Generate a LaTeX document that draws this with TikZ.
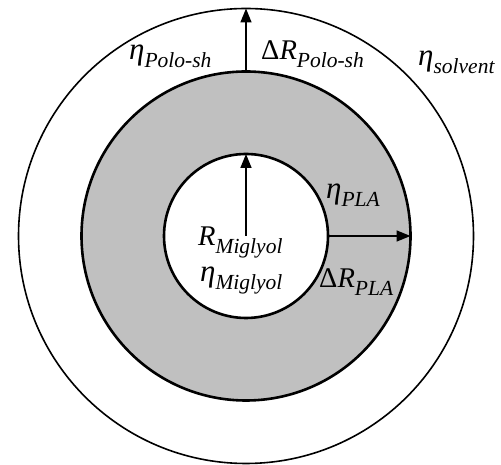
\documentclass[tikz,border=0pt]{standalone}
\usepackage{fontspec}
\setmainfont{Liberation Serif}
\usetikzlibrary{arrows.meta}
\definecolor{shellgrey}{HTML}{C0C0C0}
\newcommand{\lowsub}[1]{\raisebox{-7.5pt}{\fontsize{21.5}{22}\selectfont\itshape #1}}
\newcommand{\visc}{{\fontsize{31}{32}\selectfont\itshape η}}

\begin{document}
\begin{tikzpicture}[x=1pt, y=1pt,
    layer/.style={circle, draw=black, inner sep=0pt, outer sep=0pt},
    tag/.style={font=\fontsize{28.5}{32}\selectfont, inner sep=0pt, anchor=base west},
    radius/.style={-{Triangle[length=14pt, width=11pt]}, line width=1.6pt}
  ]
  \useasboundingbox (0,0) rectangle (501,465);

  % solvent, shell and core, drawn from the outside in
  \node[layer, line width=1.6pt, minimum size=455pt, fill=white] (solvent) at (246,229) {};
  \node[layer, line width=2.6pt, minimum size=329pt, fill=shellgrey] (shell) at (246,229) {};
  \node[layer, line width=2.6pt, minimum size=164pt, fill=white] (core) at (246,229) {};

  \draw[radius] (core.center) -- (core.north);
  \foreach \a/\b in {core.east/shell.east, shell.north/solvent.north}
    {\draw[radius] (\a) -- (\b);}

  \node[tag] (etapolo) at (129,405) {\visc\lowsub{Polo-sh}};
  \node[tag] (drpolo) at (261,405) {Δ\itshape R\lowsub{Polo-sh}};
  \node[tag] (etasolv) at (418,399) {\visc\lowsub{solvent}};
  \node[tag] (etapla) at (326,266) {\visc\lowsub{PLA}};
  \node[tag] (rmig) at (198,219) {\itshape R\lowsub{Miglyol}};
  \node[tag] (etamig) at (200,183) {\visc\lowsub{Miglyol}};
  \node[tag] (drpla) at (319,177) {Δ\itshape R\lowsub{PLA}};

\end{tikzpicture}
\end{document}
